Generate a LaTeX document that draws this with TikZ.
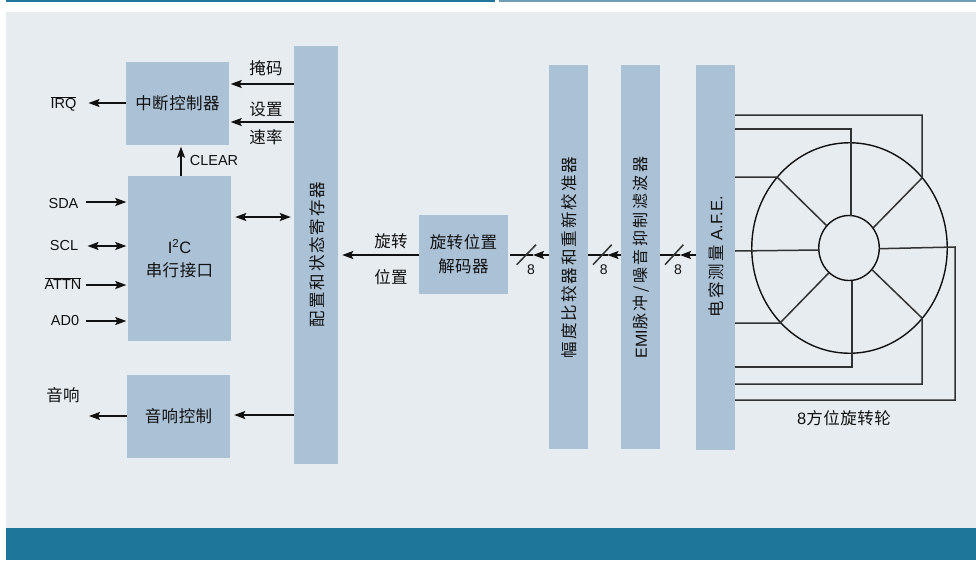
\documentclass[tikz,border=0pt]{standalone}
\usepackage{fontspec}
\setmainfont{Liberation Sans}
\newfontfamily\cjk{Noto Sans CJK SC}
\usetikzlibrary{arrows.meta,shapes.geometric}
\definecolor{panel}{HTML}{E7ECF0}
\definecolor{blk}{HTML}{ABC1D6}
\definecolor{band}{HTML}{1F769B}
\definecolor{bandl}{HTML}{6F9DB5}
\definecolor{ink}{HTML}{111111}
\newcommand{\zh}[2][3]{{\cjk\addfontfeature{LetterSpace=#1}#2}}
\tikzset{
  x=1pt,y=-1pt,
  blockbox/.style={fill=blk,draw=none,inner sep=0pt,text=ink,font=\fontsize{16.5}{24}\selectfont,align=center},
  lab/.style={inner sep=0pt,text=ink,font=\fontsize{14.5}{18}\selectfont},
  zhlab/.style={inner sep=0pt,text=ink,font=\fontsize{16.5}{20}\selectfont},
  wire/.style={draw=ink!85!panel,line width=1.5pt,line join=miter},
  sig/.style={draw=ink,line width=1.5pt},
  arr/.style={sig,-{Stealth[length=11pt,width=8pt,inset=2pt]},shorten >=1.5pt},
  arrb/.style={sig,{Stealth[length=11pt,width=8pt,inset=2pt]}-{Stealth[length=11pt,width=8pt,inset=2pt]},shorten >=1.5pt,shorten <=1.5pt},
  ringshape/.style={ellipse,draw=ink,line width=1.4pt,inner sep=0pt},
}
\begin{document}
\begin{tikzpicture}
\useasboundingbox (0,0) rectangle (976,560);
\fill[white] (0,0) rectangle (976,560);
\fill[band] (6,0) rectangle (495,2);
\fill[bandl] (499,0) rectangle (976,2);
\fill[panel] (6,12) rectangle (976,528);
\fill[band] (6,528) rectangle (976,559.5);

% blocks
\node[blockbox,minimum width=103pt,minimum height=83pt] (intc) at (177.5,103.5) {\zh{中断控制器}};
\node[blockbox,minimum width=103pt,minimum height=165pt] (iic) at (179.5,258.5) {I\textsuperscript{2}C\\[-1pt]\zh{串行接口}};
\node[blockbox,minimum width=103pt,minimum height=83pt] (tone) at (178.5,416.5) {\zh{音响控制}};
\node[blockbox,minimum width=44pt,minimum height=418pt] (reg) at (316,255) {};
\node[rotate=90,zhlab] (regt) at (317,254.5) {\zh[12]{配置和状态寄存器}};
\node[blockbox,minimum width=89pt,minimum height=79pt] (dec) at (463.5,254.5) {\zh{旋转位置}\\\zh{解码器}};
\node[blockbox,minimum width=39pt,minimum height=384pt] (amp) at (568.5,257) {};
\node[rotate=90,zhlab] (ampt) at (569,257.5) {\zh[12]{幅度比较器和重新校准器}};
\node[blockbox,minimum width=39pt,minimum height=384pt] (emi) at (640.5,257) {};
\node[rotate=90,zhlab] (emit) at (641.5,257.5) {\fontsize{16}{20}\selectfont EMI\zh[16]{脉冲/噪音抑制滤波器}};
\node[blockbox,minimum width=39pt,minimum height=385pt] (afe) at (715.5,257.5) {};
\node[rotate=90,zhlab] (afet) at (716,257) {\zh[14]{电容测量} A.F.E.};

% labels
\node[lab] (irq) at (63.5,104) {$\overline{\mbox{IRQ}}$};
\node[lab] (sda) at (63.5,204) {SDA};
\node[lab] (scl) at (64,246) {SCL};
\node[lab] (attn) at (63,284) {$\overline{\mbox{ATTN}}$};
\node[lab] (ado) at (65,321) {AD0};
\node[zhlab] (bell) at (63,395) {\zh{音响}};
\node[zhlab] (mask) at (266,68) {\zh{掩码}};
\node[zhlab] (setr) at (266,109) {\zh{设置}};
\node[zhlab] (rate) at (266,137) {\zh{速率}};
\node[lab] (clr) at (214,161) {CLEAR};
\node[zhlab] (rot1) at (391,241) {\zh{旋转}};
\node[zhlab] (rot2) at (391,277) {\zh{位置}};
\node[lab,font=\fontsize{14}{16}\selectfont] (n1) at (531,270) {8};
\node[lab,font=\fontsize{14}{16}\selectfont] (n2) at (603.7,270) {8};
\node[lab,font=\fontsize{14}{16}\selectfont] (n3) at (678,270) {8};
\node[zhlab] (cap) at (844,418.5) {8\zh{方位旋转轮}};

% left-side connectors
\coordinate (yirq) at (87,103);
\draw[arr] (intc.west |- yirq) -- (yirq);
\draw[arr] (reg.west |- 0,84) -- (intc.east |- 0,84);
\draw[arr] (reg.west |- 0,122) -- (intc.east |- 0,122);
\draw[arr] (181,176) -- (intc.south -| 181,0);
\coordinate (sdaend) at (86,202);
\coordinate (sclend) at (86,246);
\coordinate (attnend) at (86,285);
\coordinate (adoend) at (86,321);
\draw[arr] (sdaend) -- (iic.west |- sdaend);
\draw[arrb] (sclend) -- (iic.west |- sclend);
\draw[arr] (attnend) -- (iic.west |- attnend);
\draw[arr] (adoend) -- (iic.west |- adoend);
\draw[arrb,shorten >=3pt,shorten <=4pt] (iic.east |- 0,217) -- (reg.west |- 0,217);
\coordinate (bellend) at (89,416);
\draw[arr,shorten >=0pt] (tone.west |- bellend) -- (bellend);
\draw[arr,shorten >=4pt] (reg.west |- 0,415) -- (tone.east |- 0,415);
\draw[arr,shorten >=4pt] (dec.west |- 0,255) -- (reg.east |- 0,255);

% buses
\coordinate (m1) at (533,255);
\coordinate (m2) at (607.5,255);
\coordinate (m3) at (680,255);
\draw[sig] (dec.east |- m1) ++(2,0) -- (m1);
\draw[arr,shorten >=0pt] (amp.west |- m1) -- (m1);
\draw[sig] (amp.east |- m2) -- (m2);
\draw[arr,shorten >=0pt] (emi.west |- m2) -- (m2);
\draw[sig] (emi.east |- m3) -- (m3);
\draw[arr,shorten >=0pt] (afe.west |- m3) -- (m3);
\draw[wire] (516.7,264.7) -- (536,244.7);
\draw[wire] (593,264.7) -- (611.7,244.7);
\draw[wire] (665,264.7) -- (683.3,244.7);

% wheel
\node[ringshape,minimum width=195.5pt,minimum height=210.5pt] (outer) at (849.5,248) {};
\node[ringshape,minimum width=60.5pt,minimum height=65pt] (inner) at (849,248) {};
\coordinate (a1) at (922,178);
\coordinate (a3) at (777,177);
\coordinate (a5) at (780,323);
\coordinate (a7) at (922,318);
\draw[wire] (afe.east |- 0,115) -| (a1) -- (873.3,227.7);
\draw[wire] (afe.east |- 0,129) -| (851,215.7);
\draw[wire] (afe.east |- a3) -- (a3) -- (826.7,225.7);
\draw[wire] (afe.east |- 0,251) -- (819,250);
\draw[wire] (afe.east |- a5) -- (a5) -- (829,272.7);
\draw[wire] (afe.east |- 0,367) -| (852,280.7);
\draw[wire] (afe.east |- 0,384) -| (a7) -- (872.3,270);
\draw[wire] (afe.east |- 0,400) -| (955,247) -- (879.3,248.7);
\end{tikzpicture}
\end{document}
